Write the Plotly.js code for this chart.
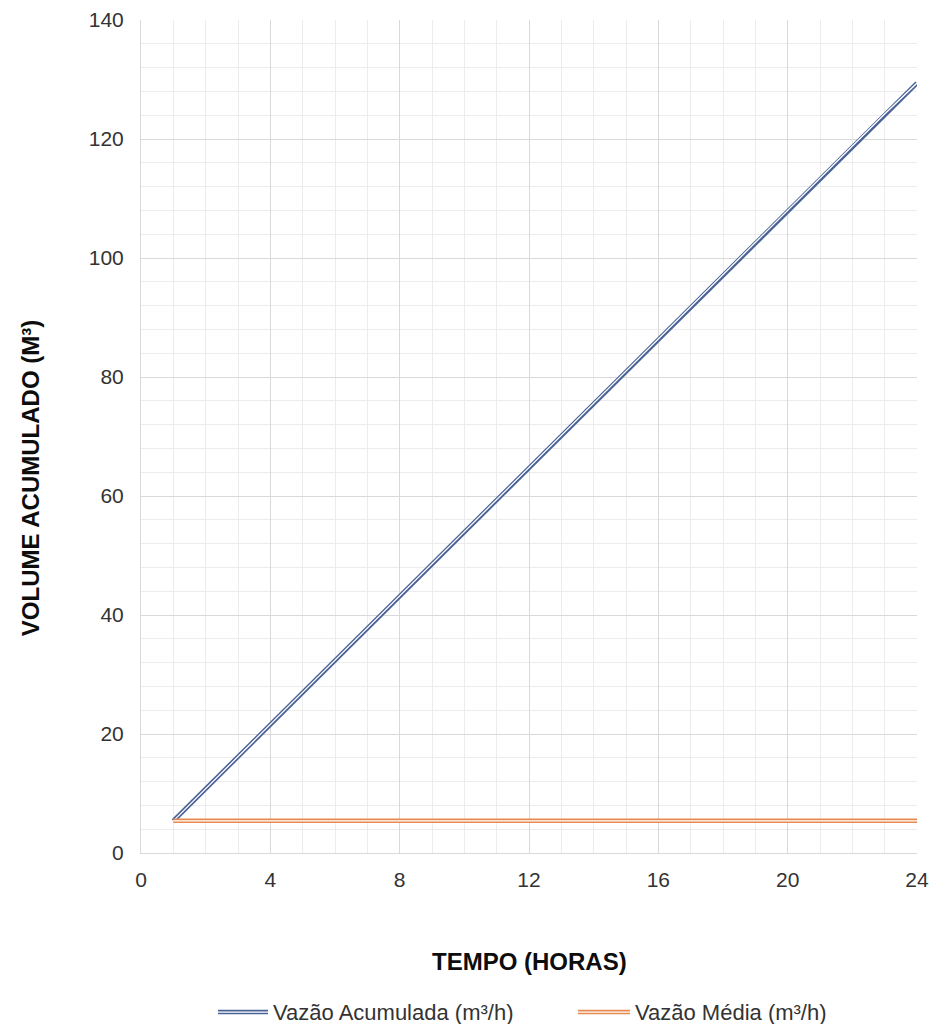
<!DOCTYPE html>
<html>
<head>
<meta charset="utf-8">
<script src="https://cdn.plot.ly/plotly-3.0.1.min.js"></script>
<style>html,body{margin:0;padding:0;background:#fff;}#chart{width:931px;height:1024px;}</style>
</head>
<body>
<div id="chart"></div>
<script>
const hours = [1,2,3,4,5,6,7,8,9,10,11,12,13,14,15,16,17,18,19,20,21,22,23,24];
const vazaoAcumulada = [5.4,10.8,16.2,21.6,27.0,32.4,37.8,43.2,48.6,54.0,59.4,64.8,70.2,75.6,81.0,86.4,91.8,97.2,102.6,108.0,113.4,118.8,124.2,129.4];
const vazaoMedia = [5.4,5.4,5.4,5.4,5.4,5.4,5.4,5.4,5.4,5.4,5.4,5.4,5.4,5.4,5.4,5.4,5.4,5.4,5.4,5.4,5.4,5.4,5.4,5.4];
const seriesNames = ["Vazão Acumulada (m³/h)", "Vazão Média (m³/h)"];
const xTitle = "TEMPO (HORAS)";
const yTitle = "VOLUME ACUMULADO (M³)";
const blue = "#4A6396", orange = "#E8894F";
const FONT = "Liberation Sans, Arial, sans-serif";

function dbl(y, color, name) {
  return [
    {x: hours, y: y, mode: "lines", name: name, line: {color: color, width: 4.5}, showlegend: false, hoverinfo: "skip"},
    {x: hours, y: y, mode: "lines", name: name, line: {color: "#ffffff", width: 1.3}, showlegend: false, hoverinfo: "skip"}
  ];
}
const data = [].concat(dbl(vazaoAcumulada, blue, seriesNames[0]), dbl(vazaoMedia, orange, seriesNames[1]));

function legendItem(x0, x1, tx, color, text) {
  return {
    shapes: [
      {type: "line", xref: "paper", yref: "paper", x0: x0, x1: x1, y0: -0.191, y1: -0.191, line: {color: color, width: 4.5}},
      {type: "line", xref: "paper", yref: "paper", x0: x0, x1: x1, y0: -0.191, y1: -0.191, line: {color: "#ffffff", width: 1.3}}
    ],
    ann: {xref: "paper", yref: "paper", x: tx, y: -0.191, xanchor: "left", yanchor: "middle", showarrow: false, text: text, font: {family: FONT, size: 22, color: "#333333"}}
  };
}
const l1 = legendItem(0.0992, 0.1637, 0.1675, blue, seriesNames[0]);
const l2 = legendItem(0.5631, 0.6302, 0.6340, orange, seriesNames[1]);

const titleFont = {family: FONT, size: 24, color: "#0d0d0d"};
const annotations = [
  l1.ann, l2.ann,
  {xref: "paper", yref: "paper", x: 0.5, y: -0.1297, xanchor: "center", yanchor: "middle", showarrow: false, text: "<b>" + xTitle + "</b>", font: titleFont},
  {xref: "paper", yref: "paper", x: -0.143, y: 0.450, xanchor: "center", yanchor: "middle", textangle: -90, showarrow: false, text: "<b>" + yTitle + "</b>", font: titleFont}
];

const layout = {
  width: 931, height: 1024,
  margin: {l: 141, r: 14, t: 20, b: 171},
  paper_bgcolor: "#fff", plot_bgcolor: "#fff",
  font: {family: FONT, size: 21, color: "#333333"},
  showlegend: false,
  xaxis: {
    range: [0, 24], dtick: 4, tick0: 0, showgrid: true, gridcolor: "#d9d9d9", gridwidth: 1,
    zeroline: false, showline: true, linecolor: "#d9d9d9", ticks: "", ticklen: 0, ticklabelstandoff: 8,
    minor: {dtick: 1, showgrid: true, gridcolor: "#ececec", gridwidth: 1},
    tickfont: {family: FONT, size: 21, color: "#333333"}
  },
  yaxis: {
    range: [0, 140], dtick: 20, tick0: 0, showgrid: true, gridcolor: "#d9d9d9", gridwidth: 1,
    zeroline: false, showline: true, linecolor: "#d9d9d9", ticks: "", ticklen: 0, ticklabelstandoff: 12,
    minor: {dtick: 4, showgrid: true, gridcolor: "#ececec", gridwidth: 1},
    tickfont: {family: FONT, size: 21, color: "#333333"}
  },
  shapes: l1.shapes.concat(l2.shapes),
  annotations: annotations
};
Plotly.newPlot("chart", data, layout, {displayModeBar: false, staticPlot: true});
</script>
</body>
</html>
